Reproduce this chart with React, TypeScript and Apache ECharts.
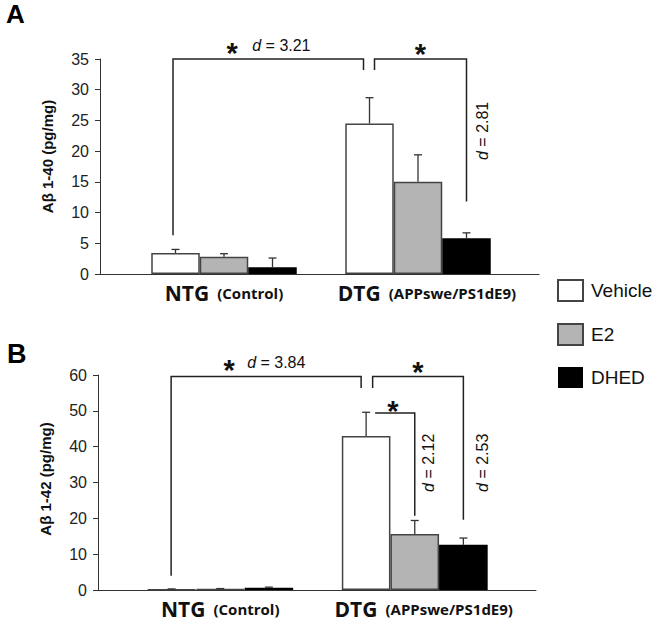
import React, { useEffect, useRef } from "react";
import * as echarts from "echarts";

const categories = ["NTG", "DTG"];
const categorySubLabels = ["(Control)", "(APPswe/PS1dE9)"];
const treatments = ["Vehicle", "E2", "DHED"];

// Panel A: Aβ 1-40 (pg/mg)
const ab40Vehicle = [3.4, 24.5];
const ab40E2 = [2.8, 15.0];
const ab40DHED = [1.1, 5.8];
const ab40VehicleUpper = [4.0, 28.7];
const ab40E2Upper = [3.3, 19.4];
const ab40DHEDUpper = [2.6, 6.7];
const ab40AxisMax = 35;
const ab40AxisStep = 5;

// Panel B: Aβ 1-42 (pg/mg)
const ab42Vehicle = [0.2, 43.0];
const ab42E2 = [0.3, 15.6];
const ab42DHED = [0.6, 12.6];
const ab42VehicleUpper = [0.3, 49.6];
const ab42E2Upper = [0.4, 19.4];
const ab42DHEDUpper = [0.8, 14.5];
const ab42AxisMax = 60;
const ab42AxisStep = 10;

const effectA = ["3.21", "2.81"];
const effectB = ["3.84", "2.12", "2.53"];

const FONT = "Liberation Sans, Arial, sans-serif";
const LABEL_FONT = "Open Sans, sans-serif";
const fills = ["#ffffff", "#b4b4b4", "#000000"];
const borders = ["#444444", "#444444", "#000000"];
const BAR_FRAC = 0.75;

export default function App() {
  const ref = useRef<HTMLDivElement>(null);

  useEffect(() => {
    if (!ref.current) return;
    const chart = echarts.init(ref.current, null, { renderer: "svg" });

    const panels = [
      {
        means: [ab40Vehicle, ab40E2, ab40DHED],
        uppers: [ab40VehicleUpper, ab40E2Upper, ab40DHEDUpper],
        max: ab40AxisMax,
        step: ab40AxisStep,
        name: "Aβ 1-40 (pg/mg)",
        axisGrid: { left: 100, width: 439, top: 59, height: 215 },
        barGrid: { left: 127, width: 388, top: 59, height: 215 },
        namePad: [0, 0, 0, 20],
      },
      {
        means: [ab42Vehicle, ab42E2, ab42DHED],
        uppers: [ab42VehicleUpper, ab42E2Upper, ab42DHEDUpper],
        max: ab42AxisMax,
        step: ab42AxisStep,
        name: "Aβ 1-42 (pg/mg)",
        axisGrid: { left: 98, width: 438, top: 375, height: 215 },
        barGrid: { left: 123, width: 389, top: 375, height: 215 },
        namePad: [0, 0, 0, 7],
      },
    ];

    const grid: any[] = [];
    const xAxis: any[] = [];
    const yAxis: any[] = [];
    const series: any[] = [];

    panels.forEach((p, pi) => {
      const gA = pi * 2;
      const gB = pi * 2 + 1;
      grid.push({ ...p.axisGrid, containLabel: false });
      grid.push({ ...p.barGrid, containLabel: false });
      xAxis.push({
        gridIndex: gA,
        type: "value",
        min: 0,
        max: 1,
        axisLine: { show: true, lineStyle: { color: "#333", width: 1 } },
        axisTick: { show: false },
        axisLabel: { show: false },
        splitLine: { show: false },
      });
      xAxis.push({
        gridIndex: gB,
        type: "category",
        data: categories,
        axisLine: { show: false },
        axisTick: { show: false },
        axisLabel: {
          margin: 8,
          interval: 0,
          hideOverlap: false,
          formatter: (v: string) => {
            const i = categories.indexOf(v);
            return i === 0
              ? `{b|${v}}{s|${categorySubLabels[i]}}`
              : `{bd|${v}}{s|${categorySubLabels[i]}}`;
          },
          rich: {
            b: { fontFamily: LABEL_FONT, fontWeight: "bold", fontSize: 21, color: "#111" },
            bd: {
              fontFamily: LABEL_FONT,
              fontWeight: "bold",
              fontSize: 21,
              color: "#111",
              padding: [0, 0, 0, 18],
            },
            s: {
              fontFamily: LABEL_FONT,
              fontWeight: "bold",
              fontSize: 15,
              color: "#111",
              padding: [0, 0, 0, 8],
            },
          },
        },
      });
      yAxis.push({
        gridIndex: gA,
        type: "value",
        min: 0,
        max: p.max,
        interval: p.step,
        name: p.name,
        nameLocation: "middle",
        nameGap: 45,
        nameTextStyle: {
          fontFamily: FONT,
          fontWeight: "bold",
          fontSize: 15,
          color: "#111",
          padding: p.namePad,
        },
        axisLine: { show: true, lineStyle: { color: "#333", width: 1 } },
        axisTick: { show: true, length: 5, lineStyle: { color: "#333" } },
        axisLabel: { fontFamily: FONT, fontSize: 16, color: "#222", margin: 11 },
        splitLine: { show: false },
      });
      yAxis.push({
        gridIndex: gB,
        type: "value",
        min: 0,
        max: p.max,
        interval: p.step,
        show: false,
        splitLine: { show: false },
      });

      treatments.forEach((t, k) => {
        series.push({
          type: "bar",
          name: t,
          xAxisIndex: gB,
          yAxisIndex: gB,
          data: p.means[k],
          barGap: "0%",
          barCategoryGap: `${(1 - BAR_FRAC) * 100}%`,
          itemStyle: {
            color: fills[k],
            borderColor: borders[k],
            borderWidth: k === 2 ? 0 : 1.5,
          },
        });
      });

      const errData: number[][] = [];
      treatments.forEach((t, k) => {
        categories.forEach((c, ci) => {
          errData.push([ci, k, p.means[k][ci], p.uppers[k][ci]]);
        });
      });
      series.push({
        type: "custom",
        xAxisIndex: gB,
        yAxisIndex: gB,
        data: errData,
        encode: { x: 0, y: [2, 3] },
        z: 5,
        renderItem: (params: any, api: any) => {
          const ci = api.value(0);
          const k = api.value(1);
          const m = api.value(2);
          const u = api.value(3);
          const p0 = api.coord([ci, m]);
          const p1 = api.coord([ci, u]);
          const band = api.size([1, 0])[0];
          const bw = (band * BAR_FRAC) / 3;
          const x = p0[0] + (k - 1) * bw;
          const st = { stroke: "#333", lineWidth: 1.3 };
          return {
            type: "group",
            children: [
              { type: "line", shape: { x1: x, y1: p0[1], x2: x, y2: p1[1] }, style: st },
              { type: "line", shape: { x1: x - 4, y1: p1[1], x2: x + 4, y2: p1[1] }, style: st },
            ],
          };
        },
      });
    });

    chart.setOption({
      animation: false,
      backgroundColor: "#ffffff",
      grid,
      xAxis,
      yAxis,
      series,
      legend: {
        orient: "vertical",
        left: 552,
        top: 274,
        itemWidth: 25,
        itemHeight: 21,
        itemGap: 21,
        icon: "rect",
        selectedMode: false,
        data: treatments,
        textStyle: { fontFamily: FONT, fontSize: 19, color: "#111", padding: [0, 0, 0, 3] },
      },
    });

    // annotation helpers
    const P = (g: number, ci: number, k: number, dx: number, v: number) => {
      const a = chart.convertToPixel({ gridIndex: g }, [categories[ci], v]) as number[];
      const a0 = chart.convertToPixel({ gridIndex: g }, [categories[0], v]) as number[];
      const a1 = chart.convertToPixel({ gridIndex: g }, [categories[1], v]) as number[];
      const bw = ((a1[0] - a0[0]) * BAR_FRAC) / 3;
      return [a[0] + (k - 1) * bw + dx, a[1]];
    };
    const lineStyle = { stroke: "#222", lineWidth: 1.5, fill: null };
    const graphics: any[] = [];
    const bracket = (g: number, pts: number[][]) => {
      const points = pts.map((q) => P(g, q[0], q[1], q[2], q[3]));
      graphics.push({ type: "polyline", shape: { points }, style: lineStyle, z: 10 });
      return points;
    };
    const star = (x: number, y: number) => {
      graphics.push({
        type: "text",
        x,
        y: y + 6,
        z: 10,
        style: {
          text: "*",
          fontFamily: FONT,
          fontWeight: "bold",
          fontSize: 29,
          fill: "#111",
          align: "center",
          verticalAlign: "middle",
        },
      });
    };
    const dText = (x: number, y: number, val: string, rotate: boolean, align: string) => {
      graphics.push({
        type: "text",
        x,
        y,
        rotation: rotate ? Math.PI / 2 : 0,
        z: 10,
        style: {
          text: `{i|d} = ${val}`,
          fontFamily: FONT,
          fontSize: 16,
          fill: "#111",
          align,
          verticalAlign: "middle",
          rich: { i: { fontFamily: FONT, fontStyle: "italic", fontSize: 16, fill: "#111" } },
        },
      });
    };

    // Panel A
    const a1 = bracket(1, [
      [0, 0, -2.5, 6.3],
      [0, 0, -2.5, ab40AxisMax],
      [1, 0, -6, ab40AxisMax],
      [1, 0, -6, 33.2],
    ]);
    const a1mid = (a1[0][0] + a1[2][0]) / 2;
    star(a1mid - 36, a1[1][1] - 12.5);
    dText(a1mid - 16, a1[1][1] - 14, effectA[0], false, "left");
    const a2 = bracket(1, [
      [1, 0, 5, 33.2],
      [1, 0, 5, ab40AxisMax],
      [1, 2, 0, ab40AxisMax],
      [1, 2, 0, 11.8],
    ]);
    star((a2[0][0] + a2[2][0]) / 2, a2[1][1] - 11);
    const a3 = P(1, 1, 2, 16, 23.3);
    dText(a3[0], a3[1], effectA[1], true, "center");

    // Panel B
    const b1 = bracket(3, [
      [0, 0, -0.5, 4],
      [0, 0, -0.5, 59.6],
      [1, 0, -5, 59.6],
      [1, 0, -5, 56.4],
    ]);
    const b1mid = (b1[0][0] + b1[2][0]) / 2;
    star(b1mid - 37, b1[1][1] - 12);
    dText(b1mid - 19, b1[1][1] - 14, effectB[0], false, "left");
    const b2 = bracket(3, [
      [1, 0, 6.5, 56.4],
      [1, 0, 6.5, 59.6],
      [1, 2, 0, 59.6],
      [1, 2, 0, 19.6],
    ]);
    star((b2[0][0] + b2[2][0]) / 2, b2[1][1] - 10);
    const b3 = bracket(3, [
      [1, 0, 9, 49.4],
      [1, 1, 0, 49.4],
      [1, 1, 0, 20.7],
    ]);
    star((b3[0][0] + b3[1][0]) / 2 - 2, b3[0][1] - 8);
    const b4 = P(3, 1, 1, 13.5, 35.5);
    dText(b4[0], b4[1], effectB[1], true, "center");
    const b5 = P(3, 1, 2, 18.7, 35.5);
    dText(b5[0], b5[1], effectB[2], true, "center");

    // panel letters
    graphics.push({
      type: "text",
      x: 6,
      y: 27,
      style: {
        text: "A",
        fontFamily: FONT,
        fontWeight: "bold",
        fontSize: 26,
        fill: "#000",
        verticalAlign: "bottom",
      },
    });
    graphics.push({
      type: "text",
      x: 7,
      y: 367,
      style: {
        text: "B",
        fontFamily: FONT,
        fontWeight: "bold",
        fontSize: 27,
        fill: "#000",
        verticalAlign: "bottom",
      },
    });

    chart.setOption({ graphic: graphics });

    return () => chart.dispose();
  }, []);

  return (
    <div
      ref={ref}
      style={{ position: "absolute", left: 0, top: 0, width: 663, height: 626, background: "#fff" }}
    />
  );
}
